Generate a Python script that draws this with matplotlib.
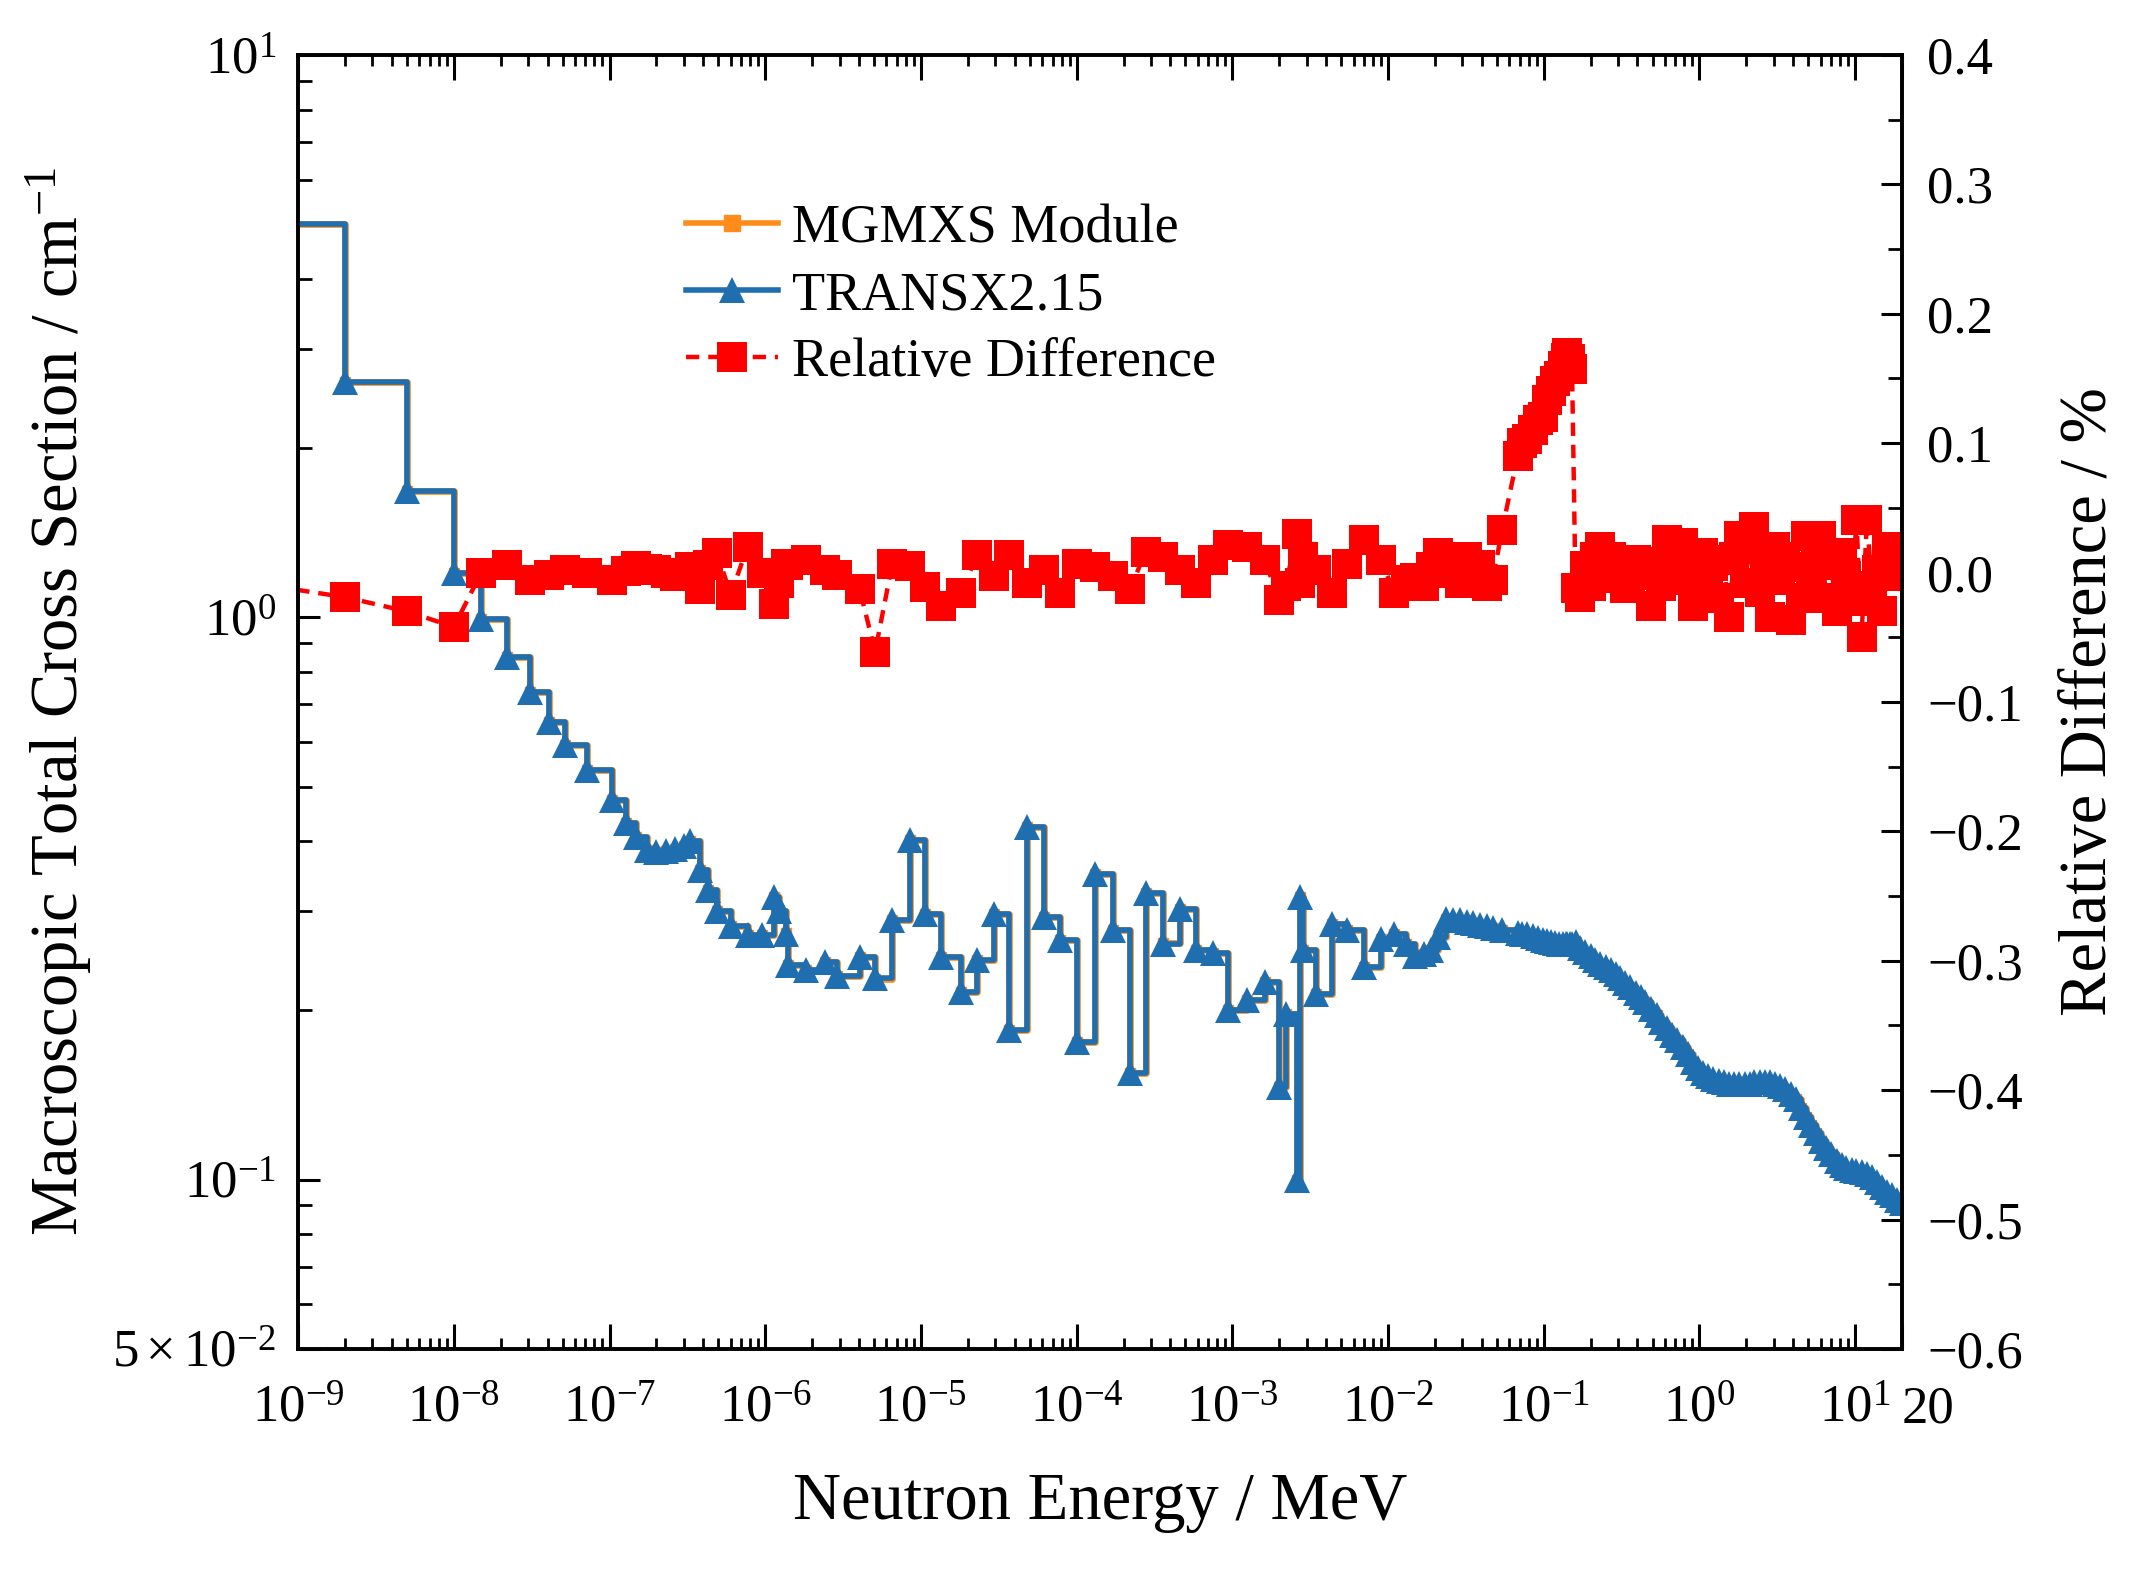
import numpy as np
import matplotlib
matplotlib.use("Agg")
import matplotlib.pyplot as plt
from matplotlib.ticker import (FixedLocator, FixedFormatter, LogLocator,
                               NullFormatter, FuncFormatter, MultipleLocator)
from matplotlib.lines import Line2D

plt.rcParams['font.family'] = ['Liberation Serif', 'DejaVu Serif']
plt.rcParams['mathtext.fontset'] = 'custom'
plt.rcParams['mathtext.rm'] = 'Liberation Serif'
plt.rcParams['mathtext.it'] = 'Liberation Serif:italic'

# group lower bounds (MeV)
energy = [
    # thermal
    1e-10, 2e-9, 5e-9, 1e-8,
    # 1.5e-8 .. 1e-6
    1.5e-8, 2.2e-8, 3.1e-8, 4.1e-8, 5.2e-8, 7.2e-8, 1.04e-7, 1.27e-7, 1.48e-7,
    1.73e-7, 2.0e-7, 2.3e-7, 2.65e-7, 3.0e-7, 3.3e-7, 3.8e-7, 4.3e-7, 4.9e-7,
    6.0e-7, 7.7e-7, 9.5e-7,
    # resonance region
    1.13e-6, 1.22e-6, 1.35e-6, 1.39e-6, 1.84e-6, 2.43e-6, 2.9e-6, 4.04e-6,
    5.08e-6, 6.55e-6, 8.45e-6, 1.06e-5, 1.34e-5, 1.82e-5, 2.28e-5, 2.95e-5,
    3.7e-5, 4.78e-5, 6.17e-5, 7.76e-5, 1.0e-4, 1.32e-4, 1.71e-4, 2.2e-4,
    2.77e-4, 3.58e-4, 4.61e-4, 5.8e-4, 7.48e-4, 9.4e-4, 1.25e-3, 1.61e-3,
    2.0e-3, 2.2e-3, 2.6e-3, 2.72e-3, 2.85e-3, 3.45e-3, 4.34e-3, 5.46e-3,
    # 7e-3 .. 0.155
    7.05e-3, 9.0e-3, 1.1e-2, 1.3e-2, 1.5e-2, 1.7e-2, 1.9e-2, 2.1e-2, 2.36e-2,
    2.6e-2, 2.9e-2, 3.2e-2, 3.5e-2, 3.9e-2, 4.3e-2, 4.7e-2, 5.4e-2, 6.8e-2,
    7.3e-2, 7.8e-2, 8.5e-2, 9.2e-2, 9.9e-2, 0.105, 0.112, 0.118, 0.125, 0.132,
    0.138, 0.142, 0.147, 0.152,
    # fast region
    0.160, 0.172, 0.185, 0.200, 0.215, 0.230, 0.250, 0.270, 0.290, 0.310,
    0.335, 0.360, 0.390, 0.420, 0.450, 0.490, 0.530, 0.570, 0.620, 0.670,
    0.720, 0.780, 0.840, 0.910, 0.980, 1.06, 1.14, 1.23, 1.33, 1.43,
    1.55, 1.67, 1.80, 1.95, 2.10, 2.25, 2.45, 2.65, 2.85, 3.05,
    3.30, 3.55, 3.85, 4.15, 4.50, 4.85, 5.20, 5.60, 6.05, 6.50,
    7.00, 7.60, 8.20, 8.80, 9.50, 10.2, 11.0, 11.9, 12.8, 13.8,
    14.9, 16.1, 17.3, 18.6, 20.0,
]

# TRANSX2.15 macroscopic total cross section (1/cm)
transx = [
    5.0, 2.62, 1.68, 1.20,
    0.995, 0.85, 0.736, 0.652, 0.592, 0.535, 0.473, 0.43, 0.407,
    0.385, 0.383, 0.384, 0.388, 0.392, 0.40, 0.355, 0.327, 0.301,
    0.283, 0.272, 0.272,
    0.318, 0.301, 0.274, 0.241, 0.236, 0.244, 0.23, 0.249,
    0.228, 0.289, 0.401, 0.297, 0.249, 0.216, 0.2455, 0.297,
    0.1845, 0.424, 0.293, 0.267, 0.176, 0.35, 0.278, 0.1545,
    0.323, 0.263, 0.303, 0.256, 0.2525, 0.20, 0.2085, 0.225,
    0.146, 0.197, 0.100, 0.318, 0.256, 0.214, 0.285, 0.278,
    0.239, 0.268, 0.274, 0.262, 0.250, 0.252, 0.256, 0.270, 0.291,
    0.290, 0.289, 0.287, 0.286, 0.284, 0.282, 0.280, 0.278, 0.275,
    0.274, 0.273, 0.271, 0.269, 0.267, 0.266, 0.265, 0.264, 0.263, 0.262,
    0.262, 0.262, 0.262, 0.263,
    0.265, 0.258, 0.254, 0.250, 0.246, 0.242, 0.239, 0.236, 0.232, 0.228,
    0.224, 0.220, 0.215, 0.211, 0.207, 0.201, 0.196, 0.191, 0.186, 0.181,
    0.177, 0.172, 0.167, 0.162, 0.158, 0.155, 0.153, 0.151, 0.150, 0.149,
    0.148, 0.148, 0.148, 0.148, 0.148, 0.149, 0.149, 0.149, 0.149, 0.148,
    0.147, 0.145, 0.142, 0.139, 0.134, 0.129, 0.125, 0.121, 0.117, 0.114,
    0.111, 0.108, 0.106, 0.105, 0.104, 0.1035, 0.103, 0.1025, 0.101, 0.099,
    0.097, 0.095, 0.094, 0.092, 0.091,
]

# relative difference MGMXS vs TRANSX (%)
rel_diff = [
    0.005, -0.019, -0.030, -0.042,
    0.000, 0.006, -0.006, -0.002, 0.002, 0.000, -0.006, 0.001, 0.005,
    0.003, 0.002, 0.000, -0.003, -0.001, 0.004, -0.013, 0.006, 0.015,
    -0.017, 0.020, 0.000,
    -0.024, -0.008, 0.007, 0.006, 0.010, 0.002, -0.002, -0.013,
    -0.061, 0.007, 0.005, -0.011, -0.026, -0.016, 0.0136, -0.003,
    0.0136, -0.008, 0.002, -0.016, 0.007, 0.0045, -0.003, -0.013,
    0.016, 0.012, 0.002, -0.008, 0.010, 0.021, 0.020, 0.010,
    -0.021, -0.010, 0.030, -0.008, 0.012, 0.002, -0.016, 0.007,
    0.025, 0.010, -0.016, -0.006, -0.004, -0.010, 0.004, 0.015, 0.000,
    0.010, -0.008, 0.012, -0.002, 0.006, -0.010, -0.006, 0.033, 0.090,
    0.100, 0.103, 0.110, 0.118, 0.120, 0.133, 0.140, 0.148, 0.152, 0.160,
    0.166, 0.170, 0.165, 0.157,
    -0.012, -0.019, 0.005, -0.010, 0.012, 0.020, 0.002, 0.012, -0.004, 0.004,
    -0.012, -0.008, 0.010, -0.002, 0.008, -0.026, 0.004, -0.010, 0.025, 0.006,
    0.012, 0.023, -0.006, -0.026, 0.004, 0.015, -0.012, 0.005, -0.020, 0.010,
    -0.034, 0.012, 0.028, -0.008, 0.018, 0.035, -0.015, 0.006, -0.034, 0.020,
    -0.006, 0.012, -0.037, 0.004, -0.020, 0.028, -0.012, 0.010, 0.028, -0.020,
    0.006, -0.030, 0.015, -0.003, -0.022, 0.041, -0.050, 0.041, -0.010, 0.002,
    -0.030, 0.020, -0.003, 0.003, -0.002,
]

assert len(energy) == len(transx) == len(rel_diff)

# MGMXS values follow from the plotted relative difference
mgmxs = np.array(transx) * (1 + np.array(rel_diff) / 100)

blue = '#1f6eb0'
orange = '#ff8c1a'
red = '#ff0000'
red_dash = (0, (3, 2))

fig = plt.figure(figsize=(21.39, 15.72), dpi=100)
ax = fig.add_axes([0.1394, 0.1419, 0.7498, 0.8231])
ax2 = ax.twinx()

ax.plot(energy, mgmxs, drawstyle='steps-post', color=orange, lw=4.8,
        marker='s', markersize=7, zorder=2)
ax.plot(energy, transx, drawstyle='steps-post', color=blue, lw=4.0,
        marker='^', markersize=19, markeredgewidth=0, zorder=3)
ax2.plot(energy, rel_diff, color=red, lw=3.2, linestyle=red_dash,
         marker='s', markersize=21, markeredgewidth=0)

# axes scales and limits
ax.set_xscale('log')
ax.set_yscale('log')
ax.set_xlim(1e-9, 20)
ax.set_ylim(5e-2, 10)
ax2.set_ylim(-0.6, 0.4)

# x ticks
xticks = [1e-9, 1e-8, 1e-7, 1e-6, 1e-5, 1e-4, 1e-3, 1e-2, 1e-1, 1e0, 1e1, 20]


def xfmt(v, pos):
    if abs(v - 20) < 1e-6:
        return '20'
    return r'$\mathdefault{10^{%d}}$' % round(np.log10(v))


ax.xaxis.set_major_locator(FixedLocator(xticks))
ax.xaxis.set_major_formatter(FuncFormatter(xfmt))
ax.xaxis.set_minor_locator(LogLocator(base=10, subs=np.arange(2, 10), numticks=40))
ax.xaxis.set_minor_formatter(NullFormatter())

# left y ticks
ax.yaxis.set_major_locator(FixedLocator([5e-2, 1e-1, 1e0, 1e1]))
ax.yaxis.set_major_formatter(FixedFormatter([r'$\mathdefault{5\times10^{-2}}$',
                                             r'$\mathdefault{10^{-1}}$',
                                             r'$\mathdefault{10^{0}}$',
                                             r'$\mathdefault{10^{1}}$']))
ax.yaxis.set_minor_locator(LogLocator(base=10, subs=np.arange(2, 10), numticks=20))
ax.yaxis.set_minor_formatter(NullFormatter())

# right y ticks
ax2.yaxis.set_major_locator(MultipleLocator(0.1))
ax2.yaxis.set_minor_locator(MultipleLocator(0.05))

ax.tick_params(axis='x', which='both', direction='in', top=True, bottom=True,
               labelsize=38, pad=26)
ax.tick_params(axis='x', which='major', length=18, width=2.2)
ax.tick_params(axis='x', which='minor', length=8, width=2.0)
ax.tick_params(axis='y', which='both', direction='in', left=True, right=False,
               labelsize=38, pad=16)
ax.tick_params(axis='y', which='major', length=16, width=2.2)
ax.tick_params(axis='y', which='minor', length=10, width=2.0)
ax2.tick_params(axis='y', which='both', direction='in', labelsize=38, pad=18)
ax2.tick_params(axis='y', which='major', length=15, width=2.2)
ax2.tick_params(axis='y', which='minor', length=10, width=2.0)

# the "20" label sits just right of its tick, next to 10^1
fig.canvas.draw()
xlabels = ax.get_xticklabels()
xlabels[-1].set_horizontalalignment('left')
xlabels[-1].set_x(20)

for a in (ax, ax2):
    for sp in a.spines.values():
        sp.set_linewidth(2.6)

ax.set_xlabel('Neutron Energy / MeV', fontsize=48, labelpad=28)
ax.set_ylabel(r'Macroscopic Total Cross Section / cm$^{-1}$', fontsize=48, labelpad=13)
ax2.set_ylabel('Relative Difference / %', fontsize=48, labelpad=26)

# legend
handles = [
    Line2D([], [], color=orange, lw=4.0, marker='s', markersize=11),
    Line2D([], [], color=blue, lw=4.0, marker='^', markersize=19, markeredgewidth=0),
    Line2D([], [], color=red, lw=3.2, linestyle=red_dash, marker='s', markersize=21,
           markeredgewidth=0),
]
labels = ['MGMXS Module', 'TRANSX2.15', 'Relative Difference']
ax2.legend(handles, labels, loc='upper left', bbox_to_anchor=(0.242, 0.885),
           frameon=False, fontsize=39, handlelength=1.7, handletextpad=0.25,
           labelspacing=0.3, borderpad=0, borderaxespad=0, numpoints=1)

fig.savefig('out.png', dpi=100)
